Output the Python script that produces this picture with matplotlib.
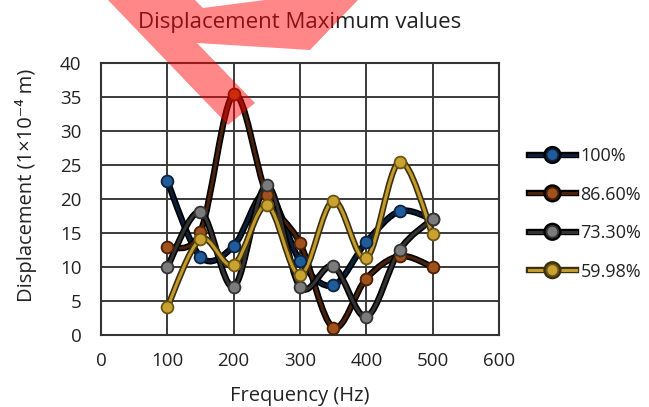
import numpy as np
import matplotlib
matplotlib.use("Agg")
import matplotlib.pyplot as plt
from matplotlib.path import Path
from matplotlib.patches import PathPatch, Polygon
from matplotlib.lines import Line2D
import matplotlib.patheffects as pe

plt.rcParams["font.family"] = ["Open Sans", "DejaVu Sans"]

freq = [100, 150, 200, 250, 300, 350, 400, 450, 500]
disp_100 = [22.6, 11.5, 13.1, 21.0, 10.9, 7.3, 13.7, 18.2, 17.0]
disp_866 = [12.9, 15.2, 35.4, 20.6, 13.5, 1.1, 8.3, 11.6, 10.0]
disp_733 = [10.0, 18.1, 7.1, 22.0, 7.1, 10.1, 2.7, 12.5, 17.1]
disp_5998 = [4.1, 14.1, 10.3, 19.1, 8.8, 19.7, 11.3, 25.5, 14.8]
labels = ["100%", "86.60%", "73.30%", "59.98%"]

series = [disp_100, disp_866, disp_733, disp_5998]
# (line core, line edge, marker face, marker edge)
styles = [
    ("#0b1f38", "#000000", "#1f5c99", "#0e2240"),
    ("#4a220a", "#000000", "#a0521c", "#4a1e05"),
    ("#333333", "#000000", "#7b7b7b", "#333333"),
    ("#c49a2a", "#3a3010", "#c9a230", "#6b5514"),
]


def smooth_path(x, y):
    # bezier "smoothed line" like spreadsheet charts
    pts = np.column_stack([x, y]).astype(float)
    n = len(pts)
    verts = [pts[0]]
    codes = [Path.MOVETO]
    for i in range(n - 1):
        p0 = pts[i - 1] if i > 0 else pts[i]
        p3 = pts[i + 2] if i + 2 < n else pts[i + 1]
        c1 = pts[i] + (pts[i + 1] - p0) / 6
        c2 = pts[i + 1] - (p3 - pts[i]) / 6
        verts += [c1, c2, pts[i + 1]]
        codes += [Path.CURVE4] * 3
    return Path(verts, codes)


fig = plt.figure(figsize=(6.49, 4.07), dpi=100)
ax = fig.add_axes([0.1556, 0.1769, 0.6133, 0.668])

handles = []
for vals, lab, (core, edge, mface, medge) in zip(series, labels, styles):
    effects = [pe.Stroke(linewidth=4.6, foreground=edge), pe.Normal()]
    patch = PathPatch(smooth_path(freq, vals), fill=False, edgecolor=core,
                      lw=2.2, path_effects=effects, zorder=3)
    ax.add_patch(patch)
    ax.plot(freq, vals, ls="none", marker="o", ms=8.5, mfc=mface, mec=medge,
            mew=1.3, zorder=4)
    handles.append(Line2D([0], [0], color=core, lw=2.2, marker="o", ms=8.5,
                          mfc=mface, mec=medge, mew=1.3, path_effects=effects))

ax.set_xlim(0, 600)
ax.set_ylim(0, 40)
ax.set_xticks(range(0, 601, 100))
ax.set_yticks(range(0, 41, 5))
ax.grid(True, color="#3a3a3a", lw=1.4)
ax.set_axisbelow(True)
for sp in ax.spines.values():
    sp.set_color("#333333")
    sp.set_linewidth(1.5)
ax.tick_params(length=0, labelsize=13.5, colors="#222222")
ax.tick_params(axis="x", pad=12)
ax.tick_params(axis="y", pad=14)

ax.set_title("Displacement Maximum values", fontsize=16, color="#222222", pad=25)
ax.set_xlabel("Frequency (Hz)", fontsize=14.5, color="#222222", labelpad=12)
ax.set_ylabel("Displacement (1×10⁻⁴ m)", fontsize=14.5, color="#222222")
ax.yaxis.set_label_coords(-0.16, 0.55)

fig.legend(handles, labels, loc="upper left", bbox_to_anchor=(0.79, 0.678),
           frameon=False, fontsize=13, handlelength=2.6, handletextpad=0.25,
           labelspacing=1.13, labelcolor="#222222")

# red watermark stroke over the top of the picture
W, H = 649, 407
mark = [(108, 0), (195, 0), (203, 8), (265, 0), (358, 0), (310, 50),
        (197, 43), (255, 103), (228, 125)]
fig.patches.append(Polygon([(px / W, 1 - py / H) for px, py in mark],
                           closed=True, transform=fig.transFigure,
                           facecolor="#ff0000", edgecolor="none", alpha=0.47,
                           zorder=10))

fig.savefig("out.png", dpi=100)
